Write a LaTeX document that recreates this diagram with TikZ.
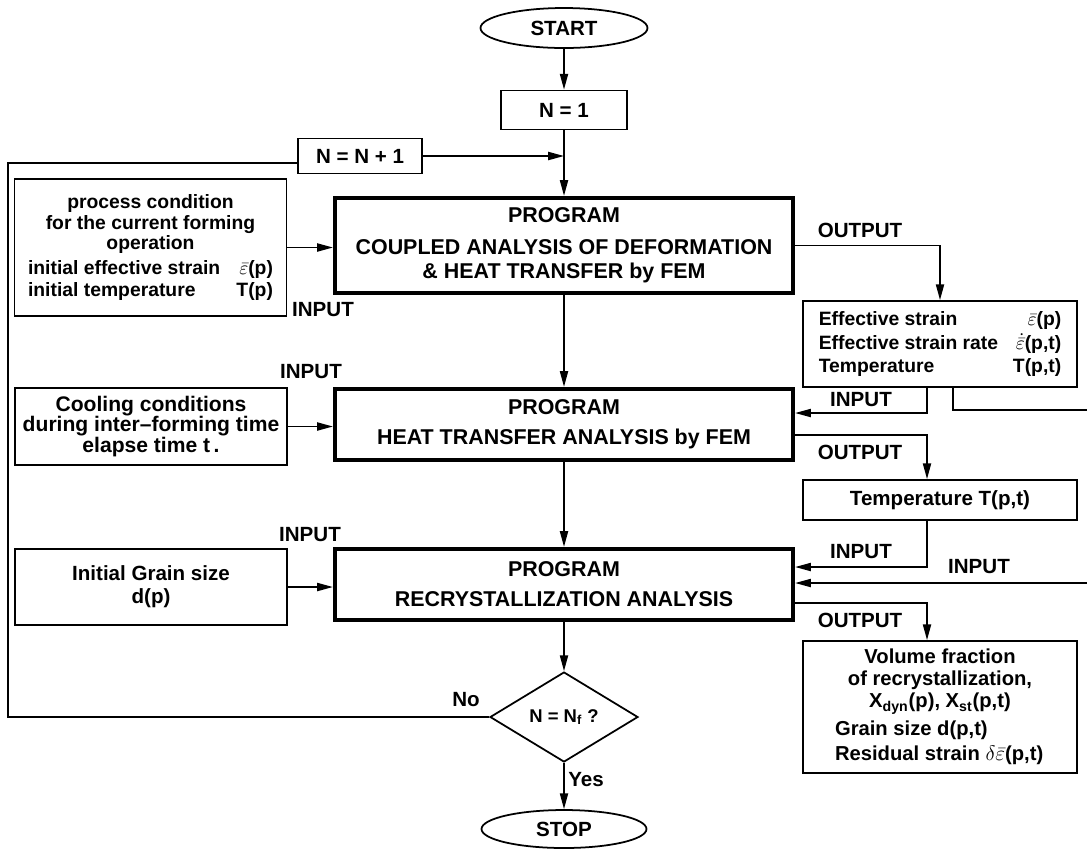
\documentclass[tikz,border=0pt]{standalone}
\usepackage{fontspec}
\setmainfont{Liberation Sans}
\usepackage{amsmath}
\usetikzlibrary{arrows.meta,shapes.geometric}

\begin{document}
\begin{tikzpicture}[x=0.02cm,y=-0.02cm,line width=1pt,
  font=\bfseries\fontsize{11.7}{13}\selectfont,
  box/.style={draw,line width=1pt,inner sep=2pt,align=center},
  prog/.style={draw,line width=2.4pt,minimum width=9.16cm,align=center,
    font=\bfseries\fontsize{12.2}{13.5}\selectfont},
  side/.style={box,minimum width=5.44cm},
  res/.style={box,minimum width=5.48cm},
  term/.style={draw,ellipse,line width=1pt,inner sep=0pt},
  arr/.style={-{Triangle[length=9pt,width=4.6pt]}},
  lab/.style={inner sep=0pt}]
  \useasboundingbox (0,0) rectangle (1087,850);

  % main column
  \node[term,minimum width=3.34cm,minimum height=0.8cm] (start) at (564,28) {START};
  \node[box,minimum width=2.52cm,minimum height=0.78cm] (n1) at (564,110) {N = 1};
  \node[box,minimum width=2.48cm,minimum height=0.70cm] (inc) at (360,156) {N = N + 1};
  \node[prog,minimum height=1.9cm] (prog1) at (564,245.5)
    {PROGRAM\\[4.5pt]COUPLED ANALYSIS OF DEFORMATION\\[0.5pt]\& HEAT TRANSFER by FEM};
  \node[prog,minimum height=1.42cm] (prog2) at (564,424.5)
    {PROGRAM\\[3.5pt]HEAT TRANSFER ANALYSIS by FEM};
  \node[prog,minimum height=1.42cm] (prog3) at (564,584.5)
    {PROGRAM\\[3.5pt]RECRYSTALLIZATION ANALYSIS};
  \node[draw,diamond,minimum width=2.96cm,minimum height=1.8cm,inner sep=0pt,
    font=\bfseries\fontsize{10.5}{12}\selectfont] (dec) at (564,717)
    {N = N\textsubscript{f} ?};
  \node[term,minimum width=3.3cm,minimum height=0.76cm] (stop) at (564,829) {STOP};

  % input boxes on the left
  \node[side,minimum height=2.74cm,font=\bfseries\fontsize{11}{11.8}\selectfont] (proc) at (150.5,247.5)
    {process condition\\for the current forming\\operation\\[2pt]
     \makebox[4.9cm]{initial effective strain\hfill$\bar{\varepsilon}$(p)}\\[1pt]
     \makebox[4.9cm]{initial temperature\hfill T(p)}};
  \node[side,minimum height=1.54cm,font=\bfseries\fontsize{12}{11.8}\selectfont] (cool) at (151,426.5)
    {Cooling conditions\\during inter--forming time\\elapse time t\,.};
  \node[side,minimum height=1.52cm] (grain) at (151,587)
    {Initial Grain size\\d(p)};

  % result boxes on the right
  \node[res,minimum height=1.72cm,font=\bfseries\fontsize{11}{13.3}\selectfont] (eff) at (940,344)
    {\makebox[4.85cm]{Effective strain\hfill$\bar{\varepsilon}$(p)}\\
     \makebox[4.85cm]{Effective strain rate\hfill$\dot{\bar{\varepsilon}}$(p,t)}\\
     \makebox[4.85cm]{Temperature\hfill T(p,t)}};
  \node[res,minimum height=0.8cm] (temp) at (940,500) {Temperature T(p,t)};
  \node[res,minimum height=2.64cm,font=\bfseries\fontsize{11.5}{12.5}\selectfont] (outb) at (940,707)
    {Volume fraction\\of recrystallization,\\X\textsubscript{dyn}(p), X\textsubscript{st}(p,t)\\[3pt]
     \makebox[4.2cm][l]{Grain size d(p,t)}\\[2pt]
     \makebox[4.2cm][l]{Residual strain $\delta\bar{\varepsilon}$(p,t)}};

  \coordinate (loop) at (8,163);
  \coordinate (edgeA) at (1087,410);
  \coordinate (edgeB) at (1087,583);

  % connectors
  \draw[arr] (start) -- (n1);
  \draw[arr] (n1) -- (prog1);
  \draw[arr] (inc.east) -- (n1.south |- inc.east);
  \draw[arr] (prog1) -- (prog2);
  \draw[arr] (prog2) -- (prog3);
  \draw[arr] (prog3) -- (dec);
  \draw[arr] (dec) -- (stop);
  \draw (dec.west) -| (loop) -- (inc.west |- loop);

  \draw[arr] (proc.east) -- (proc.east -| prog1.west);
  \draw[arr] (cool.east) -- (cool.east -| prog2.west);
  \draw[arr] (grain.east) -- (grain.east -| prog3.west);

  \draw[arr] (prog1.east) -| (eff.north);
  \draw[arr] ([xshift=-0.26cm]eff.south) |- ([yshift=0.23cm]prog2.east);
  \draw ([xshift=0.26cm]eff.south) |- (edgeA);
  \draw[arr] ([yshift=-0.21cm]prog2.east) -| ([xshift=-0.26cm]temp.north);
  \draw[arr] ([xshift=-0.26cm]temp.south) |- ([yshift=0.35cm]prog3.east);
  \draw[arr] (edgeB) -- (edgeB -| prog3.east);
  \draw[arr] ([yshift=-0.37cm]prog3.east) -| ([xshift=-0.26cm]outb.north);

  % labels
  \node[lab] (in1) at (323,310) {INPUT};
  \node[lab] (in2) at (311,372) {INPUT};
  \node[lab] (in3) at (310,535) {INPUT};
  \node[lab] (out1) at (860,230) {OUTPUT};
  \node[lab] (in4) at (861,400) {INPUT};
  \node[lab] (out2) at (860,452) {OUTPUT};
  \node[lab] (in5) at (861,552) {INPUT};
  \node[lab] (in6) at (979,567) {INPUT};
  \node[lab] (out3) at (860,620) {OUTPUT};
  \node[lab] (no) at (466,700) {No};
  \node[lab] (yes) at (586,780) {Yes};
\end{tikzpicture}
\end{document}
